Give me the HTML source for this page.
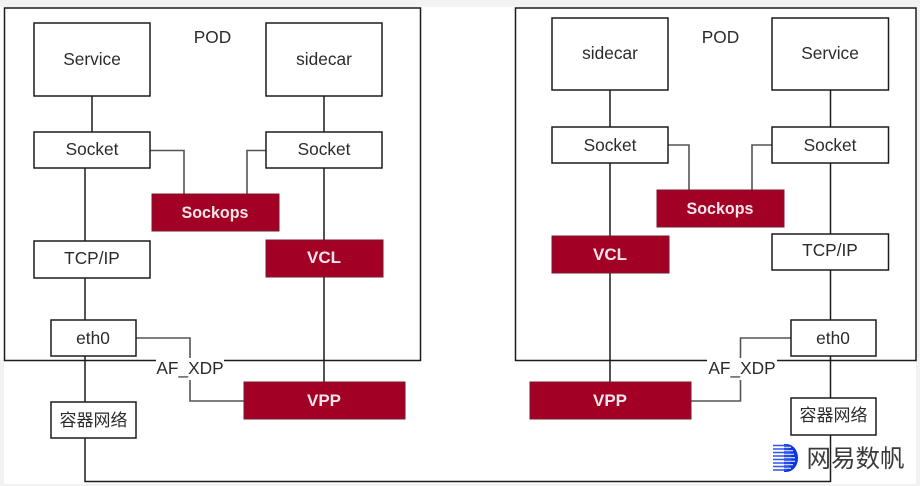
<!DOCTYPE html>
<html><head><meta charset="utf-8">
<style>
html,body{margin:0;padding:0;background:#fff;width:920px;height:486px;overflow:hidden}
svg{display:block;filter:blur(0.3px)}
text{font-family:"Liberation Sans","Noto Sans CJK SC",sans-serif;font-size:17.300px;fill:#2b2b2b;text-anchor:middle}
.w{fill:#f6e6e9;font-weight:bold;font-size:17px}
.b{fill:#fff;stroke:#1c1c1c;stroke-width:1.5}
.r{fill:#a20025;stroke:#7a1a2c;stroke-width:1}
.l{fill:none;stroke:#1c1c1c;stroke-width:1.5}
.g{fill:none;stroke:#555;stroke-width:1.6}
</style></head><body>
<svg width="920" height="486" viewBox="0 0 920 486" xmlns="http://www.w3.org/2000/svg">
<rect width="920" height="486" fill="#fff"/>
<rect width="920" height="7" fill="#f2f2f2"/>
<rect x="916" width="4" height="486" fill="#f2f2f2"/>
<rect y="360" width="4" height="126" fill="#f2f2f2"/>
<rect y="484" width="920" height="2" fill="#f2f2f2"/>

<!-- pods -->
<rect x="4.500" y="8" width="416" height="352.500" class="b"/>
<rect x="515.500" y="8" width="400.500" height="352.500" class="b"/>

<!-- left connectors -->
<path class="l" d="M92 96V132M324 96V132M85 168V241M85 278V320M85 356V402M85 438V481.500H830.500V435M324 168V240M324 277V382"/>
<path class="g" d="M150 150.500H184V194M266 150.500H247V194M136 338H190V360M190 380V401H244"/>

<!-- right connectors -->
<path class="l" d="M610 90V127M830.500 90V127M610 163V236M830.500 163V234M610 273V382M830.500 270V320M830.500 356V398"/>
<path class="g" d="M668 145H689V190M772 145H752V190M791 338H740.500V360M740.500 380V401H691"/>

<!-- left boxes -->
<rect x="34" y="23" width="116" height="73" class="b"/>
<rect x="266" y="23" width="116" height="73" class="b"/>
<rect x="34" y="132" width="116" height="36" class="b"/>
<rect x="266" y="132" width="116" height="36" class="b"/>
<rect x="152" y="194" width="127" height="37" class="r"/>
<rect x="34" y="241" width="116" height="37" class="b"/>
<rect x="266" y="240" width="117" height="37" class="r"/>
<rect x="51" y="320" width="85" height="36" class="b"/>
<rect x="51" y="402" width="85" height="36" class="b"/>
<rect x="244" y="382" width="161" height="37" class="r"/>

<!-- right boxes -->
<rect x="552" y="18" width="116" height="72" class="b"/>
<rect x="772" y="18" width="116.500" height="72" class="b"/>
<rect x="552" y="127" width="116" height="36" class="b"/>
<rect x="772" y="127" width="116.500" height="36" class="b"/>
<rect x="657" y="190" width="127" height="37" class="r"/>
<rect x="552" y="236" width="117" height="37" class="r"/>
<rect x="772" y="234" width="116.500" height="36" class="b"/>
<rect x="791" y="320" width="85" height="36" class="b"/>
<rect x="791" y="398" width="85" height="37" class="b"/>
<rect x="530" y="382" width="161" height="37" class="r"/>

<!-- AF_XDP label backgrounds -->
<rect x="156" y="358" width="68" height="22" fill="#fff"/>
<rect x="707" y="358" width="70" height="22" fill="#fff"/>

<!-- left labels -->
<text x="212.500" y="43">POD</text>
<text x="92" y="65">Service</text>
<text x="324" y="65">sidecar</text>
<text x="92" y="155">Socket</text>
<text x="324" y="155">Socket</text>
<text x="215" y="218" class="w" textLength="67" lengthAdjust="spacingAndGlyphs">Sockops</text>
<text x="92" y="264">TCP/IP</text>
<text x="324" y="263" class="w">VCL</text>
<text x="93" y="344">eth0</text>
<text x="190" y="374">AF_XDP</text>
<text x="93.500" y="426" style="font-size:17px">容器网络</text>
<text x="324" y="406" class="w">VPP</text>

<!-- right labels -->
<text x="720.500" y="43">POD</text>
<text x="610" y="59">sidecar</text>
<text x="830" y="59">Service</text>
<text x="610" y="151">Socket</text>
<text x="830" y="151">Socket</text>
<text x="720" y="214" class="w" textLength="67" lengthAdjust="spacingAndGlyphs">Sockops</text>
<text x="610" y="260" class="w">VCL</text>
<text x="830" y="256">TCP/IP</text>
<text x="833" y="344">eth0</text>
<text x="742" y="374">AF_XDP</text>
<text x="833.500" y="421" style="font-size:17px">容器网络</text>
<text x="610" y="406" class="w">VPP</text>

<!-- watermark -->
<path d="M784 444H786C793.500 444 798 451 798 458C798 465 793.500 472 786 472H784Z" fill="#0b35e0"/>
<g stroke="#2f55ee" stroke-width="1.6">
<path d="M773 445.500H787M773 449H789M773 452.500H790M773 456H791M773 459.500H791M773 463H790M773 466.500H789M773 470H787"/>
</g>
<g stroke="#fff" stroke-width="1">
<path d="M780 447.200H791M780 450.700H793M780 454.200H794M780 457.700H795M780 461.200H795M780 464.700H793M780 468.200H791"/>
</g>
<text x="855.500" y="467" style="font-size:24.500px;fill:#3a3a3a">网易数帆</text>
</svg>
</body></html>
